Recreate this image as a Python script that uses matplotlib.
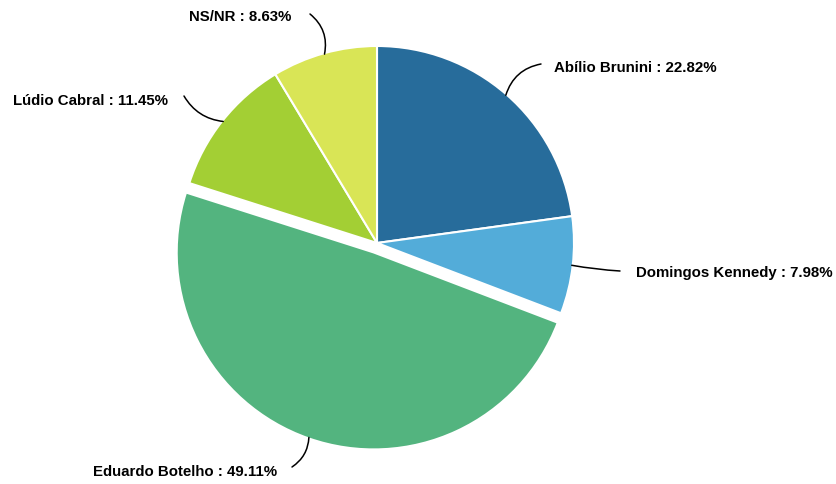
import matplotlib.pyplot as plt
import numpy as np

plt.rcParams['font.family'] = ['Liberation Sans', 'DejaVu Sans']

# Dados
nomes = ["Abílio Brunini", "Domingos Kennedy", "Eduardo Botelho", "Lúdio Cabral", "NS/NR"]
valores = [22.82, 7.98, 49.11, 11.45, 8.63]
cores = ["#276c9b", "#53acd9", "#53b47f", "#a3cf34", "#d9e556"]
destaque = [0, 0, 1, 0, 0]

W, H = 837, 484
cx, cy, r = 377, H - 243, 197
desl = 10  # deslocamento da fatia destacada, em pixels

fig = plt.figure(figsize=(W / 100, H / 100), dpi=100)
ax = fig.add_axes([0, 0, 1, 1])

explode = [desl * d for d in destaque]
ax.pie(valores, colors=cores, startangle=90, counterclock=False,
       center=(cx, cy), radius=r, explode=explode,
       wedgeprops=dict(edgecolor="white", linewidth=1.5))

# a pizza redefine os limites, então fixa depois
ax.set_xlim(0, W)
ax.set_ylim(0, H)
ax.set_aspect('equal')
ax.axis('off')

# Posições dos rótulos (pixels: fim da linha, posição do texto, alinhamento, curvatura)
fim_linha = [(541, 64), (620, 271), (292, 467), (184, 96), (310, 14)]
pos_texto = [(554, 68), (636, 273), (277, 472), (168, 101), (291, 17)]
alinh = ["left", "left", "right", "right", "right"]
curva = [0.3, -0.03, 0.25, 0.25, -0.3]

total = sum(valores)
acum = 0
for i, v in enumerate(valores):
    meio = (acum + v / 2) / total * 2 * np.pi
    acum += v
    ox = desl * np.sin(meio) * destaque[i]
    oy = desl * np.cos(meio) * destaque[i]
    px = cx + (r - 1) * np.sin(meio) + ox
    py = cy + (r - 1) * np.cos(meio) + oy
    lx, ly = fim_linha[i]
    ax.annotate("", xy=(px, py), xytext=(lx, H - ly),
                arrowprops=dict(arrowstyle="-", color="black", lw=1.1,
                                shrinkA=0, shrinkB=0,
                                connectionstyle=f"arc3,rad={curva[i]}"))
    tx, ty = pos_texto[i]
    ax.text(tx, H - ty, f"{nomes[i]} : {v:.2f}%", ha=alinh[i], va="center",
            fontsize=10.8, fontweight="bold", color="black")

fig.savefig("out.png", dpi=100)
